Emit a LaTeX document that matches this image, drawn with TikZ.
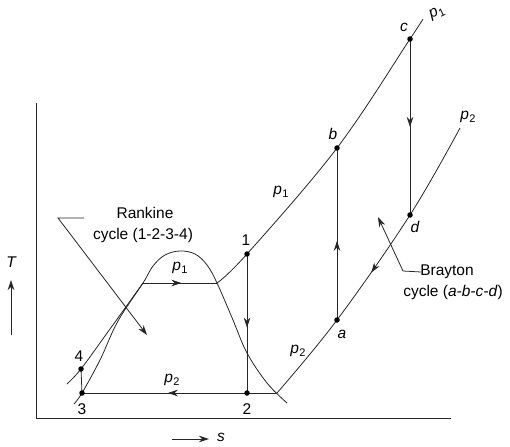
\documentclass[tikz,border=0pt]{standalone}
\usepackage{fontspec}
\setmainfont{Liberation Sans}
\usetikzlibrary{arrows.meta,decorations.markings}
\newcommand\pv[1]{\textit{p}\kern0.3pt\raisebox{-0.4ex}{\fontsize{11}{11}\selectfont #1}}
\begin{document}
\begin{tikzpicture}[x=1pt,y=-1pt,line width=0.8pt,draw=black!85,
  >={Stealth[length=10pt,width=6.5pt]},
  dot/.style={circle,fill=black,inner sep=0pt,minimum size=5.5pt},
  lab/.style={font=\fontsize{15.5}{17}\selectfont,inner sep=1pt},
  midarr/.style={postaction={decorate},decoration={markings,mark=at position #1 with {\arrow{>}}}},
  midrev/.style={postaction={decorate},decoration={markings,mark=at position #1 with {\arrow{<}}}}]
\useasboundingbox (0,0) rectangle (510,446);
% axes
\coordinate (ytop) at (36,103);
\coordinate (orig) at (36,418);
\coordinate (xend) at (451,418);
\draw (ytop) -- (orig) -- (xend);
\coordinate (ta) at (11,335); \coordinate (tb) at (11,280);
\draw[->] (ta) -- (tb);
\node[lab] (T) at (11,262) {\itshape T};
\coordinate (sa) at (172,439); \coordinate (sb) at (209,439);
\draw[->] (sa) -- (sb);
\node[lab] (S) at (221,437) {\itshape s};
% state points
\coordinate (p1) at (247,254);
\coordinate (p2) at (247,393);
\coordinate (p3) at (82,393);
\coordinate (p4) at (81,369);
\coordinate (fL) at (143,283);
\coordinate (gV) at (217,283);
\coordinate (pa) at (337,320);
\coordinate (pb) at (337,148);
\coordinate (pc) at (410,39);
\coordinate (pd) at (410,215);
\coordinate (q2) at (277,393);
% dome
\draw plot[smooth,tension=0.6] coordinates {(74,404) (82,393) (100,360) (118,321) (143,283) (153,266) (165,255) (180,251) (195,254) (207,265) (217,283) (233,320) (247,353) (267,383) (287,403)};
% p1 line: compressed liquid, evaporation, superheat
\draw plot[smooth,tension=0.5] coordinates {(67,384) (81,369) (110,329) (143,283)};
\draw[midarr=0.52] (fL) -- (gV);
\draw plot[smooth,tension=0.6] coordinates {(217,283) (247,254) (337,148) (410,39) (423,19)};
% p2 line
\draw[midarr=0.48] (p2) -- (p3);
\draw (p2) -- (q2);
\draw[midrev=0.505] plot[smooth,tension=0.6] coordinates {(277,393) (337,320) (410,215) (460,128)};
% processes
\draw[midarr=0.53] (p1) -- (p2);
\draw (p3) -- (p4);
\draw[midarr=0.46] (pa) -- (pb);
\draw[midarr=0.5] (pc) -- (pd);
% dots
\foreach \n in {p1,p2,p3,p4,pa,pb,pc,pd} \node[dot] (d\n) at (\n) {};
% point labels
\node[lab] (l1) at (246,240) {1};
\node[lab] (l2) at (247,409) {2};
\node[lab] (l3) at (82,409) {3};
\node[lab] (l4) at (79,356) {4};
\node[lab] (la) at (342,334) {\itshape a};
\node[lab] (lb) at (333,134) {\itshape b};
\node[lab] (lc) at (404,27) {\itshape c};
\node[lab] (ld) at (415,227) {\itshape d};
% pressure labels
\node[lab] (lp1a) at (180,268) {\pv{1}};
\node[lab] (lp1b) at (281,192) {\pv{1}};
\node[lab,rotate=25] (lp1c) at (437,13) {\pv{1}};
\node[lab] (lp2a) at (172,380) {\pv{2}};
\node[lab] (lp2b) at (298,351) {\pv{2}};
\node[lab] (lp2c) at (468,117) {\pv{2}};
% Rankine label
\node[lab] (rk1) at (145,213) {Rankine};
\node[lab] (rk2) at (143,235) {cycle (1-2-3-4)};
\coordinate (r0) at (84,218); \coordinate (r1) at (58,218); \coordinate (r2) at (147,335);
\draw[->] (r0) -- (r1) -- (r2);
% Brayton label
\node[lab] (br1) at (447,272) {Brayton};
\node[lab] (br2) at (453,292) {cycle (\textit{a-b-c-d})};
\coordinate (b0) at (421,272); \coordinate (b1) at (403,271); \coordinate (b2) at (378,217);
\draw[->] (b0) -- (b1) -- (b2);
\end{tikzpicture}
\end{document}
